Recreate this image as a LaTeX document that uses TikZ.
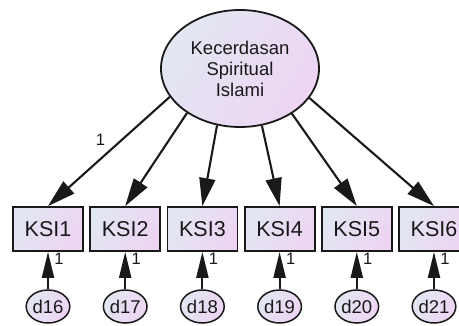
\documentclass[tikz,border=0pt]{standalone}
\usepackage{fontspec}
\setmainfont{Liberation Sans}
\usetikzlibrary{arrows.meta,shapes.geometric}
\definecolor{shadeL}{RGB}{226,230,242}
\definecolor{shadeR}{RGB}{237,213,243}
\definecolor{ink}{RGB}{25,25,25}
\begin{document}
\begin{tikzpicture}[x=1pt,y=-1pt,
  fillgrad/.style={left color=shadeL,right color=shadeR,shading angle=60},
  latent/.style={ellipse,draw=ink,line width=1.8pt,fillgrad,inner sep=0pt,
    minimum width=158pt,minimum height=117pt,align=center,
    font=\fontsize{18.5pt}{21pt}\selectfont,text=ink},
  obs/.style={rectangle,draw=ink,line width=1.8pt,fillgrad,inner sep=0pt,
    minimum width=70pt,minimum height=44pt,
    font=\fontsize{21.5pt}{24pt}\selectfont,text=ink},
  err/.style={ellipse,draw=ink,line width=1.5pt,fillgrad,inner sep=0pt,
    minimum width=39pt,minimum height=33pt,
    font=\fontsize{18.5pt}{20pt}\selectfont,text=ink},
  load/.style={draw=ink,line width=2.1pt,-{Triangle[length=28pt,width=16pt]}},
  res/.style={draw=ink,line width=2.1pt,-{Triangle[length=26pt,width=12pt]}},
  wt/.style={font=\fontsize{16.5pt}{17pt}\selectfont,text=ink,inner sep=0pt}]
\useasboundingbox (0,0) rectangle (459,325);
\clip (0,0) rectangle (459,325);

% latent factor
\node[latent] (L) at (240,68.5) {Kecerdasan\\Spiritual\\Islami};

% indicators, their residuals and paths
\foreach \i/\x/\a/\d in {1/48/202.2/16, 2/125.2/220.2/17, 3/202.4/248.7/18,
                         4/279.6/291.3/19, 5/356.8/319.8/20, 6/434/337.8/21}{
  \node[obs] (k\i) at (\x,229) {KSI\i};
  \node[err] (d\i) at (\x,306.5) {d\d};
  \draw[load] (L.\a) -- (k\i.north);
  \draw[res] (d\i.north) -- (k\i.south);
  \node[wt] (r\i) at (\x+11,259) {1};
}

% fixed loading
\node[wt] (w1) at (100.5,139.5) {1};
\end{tikzpicture}
\end{document}
